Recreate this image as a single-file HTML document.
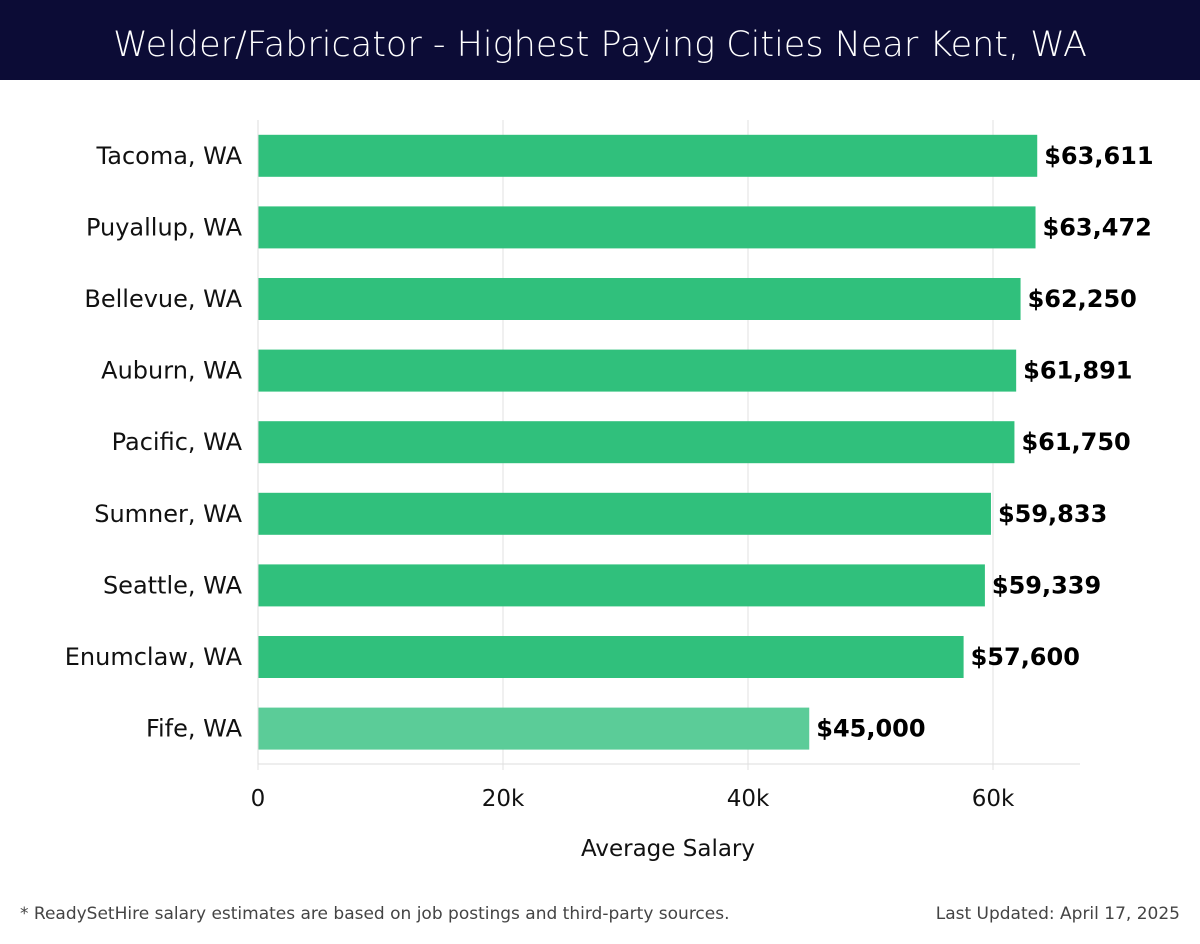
<!DOCTYPE html>
<html><head><meta charset="utf-8"><style>
body{margin:0;width:1200px;height:940px;background:#fff;font-family:"DejaVu Sans","Liberation Sans",sans-serif;overflow:hidden}
</style></head><body>
<svg width="1200" height="940" xmlns="http://www.w3.org/2000/svg">
<rect x="0" y="0" width="1200" height="80" fill="#0c0c36"/>
<text x="600" y="56" text-anchor="middle" fill="#fff" font-size="35" font-family="DejaVu Sans, Liberation Sans, sans-serif" font-weight="300">Welder/Fabricator - Highest Paying Cities Near Kent, WA</text>
<g id="grid"></g><g id="bars"></g><g id="axis"></g>
<text x="668" y="856" text-anchor="middle" font-size="23" fill="#111">Average Salary</text>
<text x="20" y="919" font-size="17" fill="#444">* ReadySetHire salary estimates are based on job postings and third-party sources.</text>
<text x="1180" y="919" text-anchor="end" font-size="17" fill="#444">Last Updated: April 17, 2025</text>
</svg>
<script>
const categories=["Tacoma, WA","Puyallup, WA","Bellevue, WA","Auburn, WA","Pacific, WA","Sumner, WA","Seattle, WA","Enumclaw, WA","Fife, WA"];
const values=[63611,63472,62250,61891,61750,59833,59339,57600,45000];
const valueLabels=["$63,611","$63,472","$62,250","$61,891","$61,750","$59,833","$59,339","$57,600","$45,000"];
const ticks=[0,20000,40000,60000];
const tickLabels=["0","20k","40k","60k"];
const NS="http://www.w3.org/2000/svg";
const x=v=>258+v*(245/20000);
const y0=120,step=71.6,bh=42;
const yc=i=>y0+step*(i+0.5);
function mk(t,a,p){const e=document.createElementNS(NS,t);for(const k in a)e.setAttribute(k,a[k]);p.appendChild(e);return e;}
const grid=document.getElementById('grid'),bars=document.getElementById('bars'),axis=document.getElementById('axis');
ticks.forEach((t,i)=>{
 const l=mk('line',{x1:x(t),x2:x(t),y1:120,y2:770,stroke:'#e2e2e2','stroke-width':1},grid);
 
 
 const tx=mk('text',{x:x(t),y:806,'text-anchor':'middle','font-size':23,fill:'#111'},axis);
 tx.textContent=tickLabels[i];
 
 
});
const ax=mk('line',{x1:258,x2:1080,y1:764,y2:764,stroke:'#ddd','stroke-width':1},axis);


const ay=mk('line',{x1:258,x2:258,y1:120,y2:764,stroke:'#ddd','stroke-width':1},axis);


categories.forEach((c,i)=>{
 const r=mk('rect',{x:258,y:yc(i)-bh/2,width:x(values[i])-258,height:bh,fill:i===8?'#5bcc98':'#30c07c'},bars);
 
 
 const lb=mk('text',{x:242,y:yc(i)+8,'text-anchor':'end','font-size':24,fill:'#111'},axis);
 lb.textContent=c;
 
 
 const v=mk('text',{x:x(values[i])+7,y:yc(i)+8,'font-size':24,'font-weight':'bold',fill:'#000'},bars);
 v.textContent=valueLabels[i];
 
 
});
</script>
</body></html>
